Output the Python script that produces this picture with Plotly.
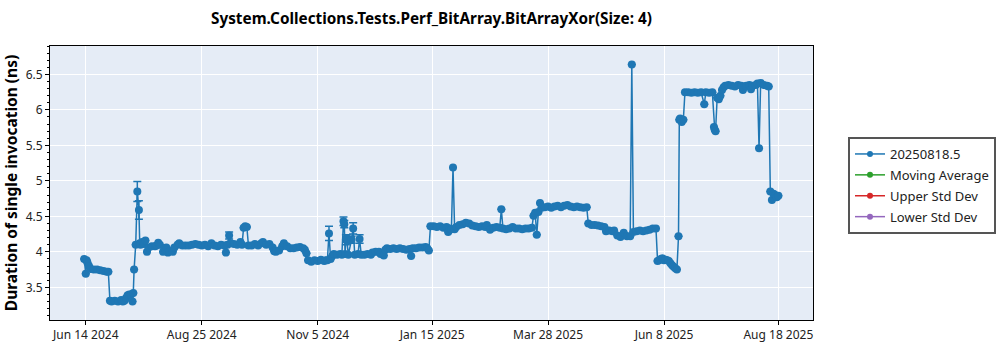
import plotly.graph_objects as go

dates = [
    "2024-06-13", "2024-06-14", "2024-06-14 12:00", "2024-06-15", "2024-06-16", "2024-06-17",
    "2024-06-19", "2024-06-21", "2024-06-23", "2024-06-25", "2024-06-27", "2024-06-28",
    "2024-06-29", "2024-06-30", "2024-07-02", "2024-07-04", "2024-07-06", "2024-07-07",
    "2024-07-08", "2024-07-09", "2024-07-10", "2024-07-11", "2024-07-12", "2024-07-13",
    "2024-07-13 12:00", "2024-07-14", "2024-07-15", "2024-07-16", "2024-07-17", "2024-07-17 12:00",
    "2024-07-18", "2024-07-19", "2024-07-20", "2024-07-21", "2024-07-22", "2024-07-23",
    "2024-07-25", "2024-07-27", "2024-07-28", "2024-07-29", "2024-07-30", "2024-08-01",
    "2024-08-02", "2024-08-03", "2024-08-04", "2024-08-05", "2024-08-07", "2024-08-08",
    "2024-08-10", "2024-08-11", "2024-08-13", "2024-08-15", "2024-08-17", "2024-08-19",
    "2024-08-21", "2024-08-23", "2024-08-25", "2024-08-27", "2024-08-29", "2024-08-31",
    "2024-09-02", "2024-09-04", "2024-09-06", "2024-09-08", "2024-09-09", "2024-09-10",
    "2024-09-11", "2024-09-12", "2024-09-14", "2024-09-16", "2024-09-18", "2024-09-19",
    "2024-09-20", "2024-09-21", "2024-09-22", "2024-09-23", "2024-09-25", "2024-09-27",
    "2024-09-29", "2024-10-01", "2024-10-02", "2024-10-04", "2024-10-06", "2024-10-08",
    "2024-10-09", "2024-10-10", "2024-10-12", "2024-10-14", "2024-10-15", "2024-10-17",
    "2024-10-19", "2024-10-21", "2024-10-23", "2024-10-25", "2024-10-27", "2024-10-28",
    "2024-10-29", "2024-10-30", "2024-11-01", "2024-11-03", "2024-11-05", "2024-11-07",
    "2024-11-09", "2024-11-10", "2024-11-11", "2024-11-12", "2024-11-13", "2024-11-14",
    "2024-11-15", "2024-11-17", "2024-11-19", "2024-11-20", "2024-11-21", "2024-11-21 12:00",
    "2024-11-22", "2024-11-22 12:00", "2024-11-23", "2024-11-24", "2024-11-26", "2024-11-27",
    "2024-11-28", "2024-11-30", "2024-12-01", "2024-12-02", "2024-12-04", "2024-12-06",
    "2024-12-08", "2024-12-09", "2024-12-11", "2024-12-13", "2024-12-14", "2024-12-16",
    "2024-12-17", "2024-12-18", "2024-12-20", "2024-12-22", "2024-12-24", "2024-12-26",
    "2024-12-28", "2024-12-30", "2025-01-01", "2025-01-02", "2025-01-03", "2025-01-05",
    "2025-01-07", "2025-01-09", "2025-01-11", "2025-01-12", "2025-01-13", "2025-01-14",
    "2025-01-16", "2025-01-18", "2025-01-20", "2025-01-22", "2025-01-24", "2025-01-25",
    "2025-01-26", "2025-01-27", "2025-01-28", "2025-01-29", "2025-01-30", "2025-02-01",
    "2025-02-03", "2025-02-05", "2025-02-07", "2025-02-09", "2025-02-11", "2025-02-13",
    "2025-02-15", "2025-02-17", "2025-02-18", "2025-02-20", "2025-02-22", "2025-02-24",
    "2025-02-26", "2025-02-27", "2025-02-28", "2025-03-02", "2025-03-04", "2025-03-06",
    "2025-03-08", "2025-03-10", "2025-03-12", "2025-03-14", "2025-03-16", "2025-03-18",
    "2025-03-19", "2025-03-20", "2025-03-21", "2025-03-22", "2025-03-23", "2025-03-24",
    "2025-03-26", "2025-03-28", "2025-03-30", "2025-04-01", "2025-04-03", "2025-04-05",
    "2025-04-07", "2025-04-09", "2025-04-11", "2025-04-13", "2025-04-15", "2025-04-17",
    "2025-04-19", "2025-04-21", "2025-04-22", "2025-04-24", "2025-04-26", "2025-04-28",
    "2025-04-30", "2025-05-02", "2025-05-03", "2025-05-05", "2025-05-07", "2025-05-08",
    "2025-05-10", "2025-05-12", "2025-05-14", "2025-05-16", "2025-05-18", "2025-05-19",
    "2025-05-20", "2025-05-22", "2025-05-24", "2025-05-26", "2025-05-28", "2025-05-30",
    "2025-06-01", "2025-06-03", "2025-06-04", "2025-06-05", "2025-06-06", "2025-06-07",
    "2025-06-08", "2025-06-09", "2025-06-10", "2025-06-11", "2025-06-12", "2025-06-13",
    "2025-06-14", "2025-06-15", "2025-06-16", "2025-06-17", "2025-06-17 12:00", "2025-06-18",
    "2025-06-19", "2025-06-20", "2025-06-21", "2025-06-23", "2025-06-25", "2025-06-27",
    "2025-06-29", "2025-07-01", "2025-07-03", "2025-07-04", "2025-07-06", "2025-07-08",
    "2025-07-09", "2025-07-09 12:00", "2025-07-10", "2025-07-11", "2025-07-12", "2025-07-13",
    "2025-07-14", "2025-07-15", "2025-07-16", "2025-07-18", "2025-07-20", "2025-07-22",
    "2025-07-24", "2025-07-26", "2025-07-27", "2025-07-29", "2025-07-31", "2025-08-01",
    "2025-08-02", "2025-08-04", "2025-08-05", "2025-08-06", "2025-08-07", "2025-08-09",
    "2025-08-11", "2025-08-12", "2025-08-13", "2025-08-14", "2025-08-15", "2025-08-16",
    "2025-08-17", "2025-08-18",
]

durations = [
    3.90, 3.69, 3.88, 3.85, 3.80, 3.76,
    3.75, 3.75, 3.74, 3.73, 3.72, 3.72,
    3.31, 3.30, 3.31, 3.30, 3.32, 3.30,
    3.31, 3.35, 3.39, 3.40, 3.40, 3.30,
    3.42, 3.75, 4.10, 4.85, 4.59, 4.12,
    4.10, 4.14, 4.11, 4.16, 4.00, 4.06,
    4.08, 4.08, 4.09, 4.13, 4.10, 4.00,
    4.05, 4.06, 3.99, 4.01, 4.00, 4.06,
    4.10, 4.12, 4.09, 4.09, 4.09, 4.10,
    4.11, 4.10, 4.09, 4.10, 4.08, 4.12,
    4.09, 4.08, 4.10, 4.09, 3.99, 4.10,
    4.23, 4.12, 4.11, 4.10, 4.14, 4.10,
    4.34, 4.36, 4.35, 4.09, 4.09, 4.11,
    4.09, 4.12, 4.14, 4.10, 4.11, 4.06,
    4.01, 4.00, 4.02, 4.08, 4.12, 4.08,
    4.05, 4.05, 4.06, 4.07, 4.05, 4.03,
    3.98, 3.88, 3.86, 3.88, 3.87, 3.89,
    3.87, 3.88, 3.88, 4.26, 3.90, 3.94,
    3.97, 3.96, 3.97, 3.96, 4.43, 4.39,
    3.97, 4.17, 4.19, 3.96, 4.17, 4.33,
    3.96, 3.97, 4.18, 3.96, 3.96, 3.97,
    3.96, 3.99, 4.00, 4.00, 3.97, 3.95,
    4.03, 4.05, 4.04, 4.05, 4.04, 4.05,
    4.04, 4.03, 4.04, 3.94, 4.05, 4.05,
    4.06, 4.06, 4.07, 4.05, 4.02, 4.36,
    4.36, 4.35, 4.36, 4.34, 4.35, 4.28,
    4.33, 4.32, 5.19, 4.32, 4.35, 4.38,
    4.39, 4.41, 4.40, 4.37, 4.36, 4.35,
    4.36, 4.35, 4.38, 4.31, 4.34, 4.35,
    4.34, 4.60, 4.33, 4.32, 4.33, 4.35,
    4.33, 4.33, 4.32, 4.33, 4.33, 4.34,
    4.51, 4.55, 4.24, 4.56, 4.69, 4.62,
    4.63, 4.64, 4.62, 4.64, 4.65, 4.63,
    4.65, 4.66, 4.64, 4.63, 4.64, 4.63,
    4.62, 4.63, 4.40, 4.38, 4.38, 4.37,
    4.36, 4.35, 4.29, 4.30, 4.29, 4.30,
    4.23, 4.21, 4.27, 4.22, 4.22, 6.64,
    4.28, 4.29, 4.30, 4.29, 4.30, 4.31,
    4.33, 4.33, 3.87, 3.88, 3.90, 3.91,
    3.88, 3.89, 3.88, 3.87, 3.84, 3.81,
    3.79, 3.77, 3.75, 4.22, 5.86, 5.88,
    5.83, 5.86, 6.25, 6.25, 6.24, 6.25,
    6.24, 6.25, 6.08, 6.25, 6.24, 6.25,
    5.76, 5.72, 5.70, 6.17, 6.15, 6.20,
    6.28, 6.32, 6.34, 6.35, 6.34, 6.33,
    6.35, 6.34, 6.28, 6.34, 6.35, 6.29,
    6.34, 6.35, 6.37, 5.46, 6.38, 6.35,
    6.34, 6.33, 4.85, 4.73, 4.82, 4.80,
    4.77, 4.79,
]

# error bars visible on a few runs
err_dates = ["2024-07-16", "2024-07-17", "2024-09-11", "2024-11-12", "2024-11-21",
             "2024-11-21 12:00", "2024-11-22 12:00", "2024-11-23", "2024-11-26",
             "2024-11-27", "2024-12-01"]
err_sizes = [0.14, 0.13, 0.05, 0.10, 0.06, 0.05, 0.07, 0.05, 0.05, 0.08, 0.06]

legend_names = ["20250818.5", "Moving Average", "Upper Std Dev", "Lower Std Dev"]
legend_colors = ["#1f77b4", "#2ca02c", "#d62728", "#9467bd"]

tick_dates = ["2024-06-14", "2024-08-25", "2024-11-05", "2025-01-15",
              "2025-03-28", "2025-06-08", "2025-08-18"]

title_text = "System.Collections.Tests.Perf_BitArray.BitArrayXor(Size: 4)"
y_title = "Duration of single invocation (ns)"

err_map = dict(zip(err_dates, err_sizes))
errors = [err_map.get(d, 0) for d in dates]

FONT = "Noto Sans"

fig = go.Figure()
fig.add_trace(go.Scatter(
    x=dates, y=durations, mode="lines+markers", name=legend_names[0],
    showlegend=False,
    line=dict(color=legend_colors[0], width=1.5),
    marker=dict(color=legend_colors[0], size=8),
    error_y=dict(type="data", array=errors, visible=True, color=legend_colors[0],
                 thickness=1.5, width=4),
))
# legend entries (same symbol size for all four)
for i, (name, col) in enumerate(zip(legend_names, legend_colors)):
    fig.add_trace(go.Scatter(
        x=[None], y=[None], mode="lines+markers", name=name, legendgroup="g%d" % i,
        line=dict(color=col, width=1.5), marker=dict(color=col, size=6),
    ))

fig.update_layout(
    width=1000, height=350,
    margin=dict(l=50, r=187, t=46, b=30, autoexpand=False),
    paper_bgcolor="white", plot_bgcolor="#E5ECF6",
    font=dict(family=FONT, size=12, color="#222"),
    title=dict(text="<b>" + title_text + "</b>", x=0.5, xref="paper", xanchor="center",
               y=1 - 19 / 350, yanchor="middle", font=dict(size=15.3, color="black")),
    showlegend=True,
    legend=dict(x=(848 - 50) / 763, y=(320 - 137) / 274, xanchor="left", yanchor="top",
                bgcolor="white", bordercolor="#555", borderwidth=2,
                font=dict(size=13, color="#222"), itemwidth=30, tracegroupgap=1),
    shapes=[dict(type="rect", xref="paper", yref="paper",
                 x0=(852 - 50) / 763, x1=(983 - 50) / 763,
                 y0=(320 - 232) / 274, y1=(320 - 141) / 274,
                 fillcolor="#c8c8c8", line=dict(width=0), layer="above")],
)
fig.update_xaxes(
    type="date", range=["2024-05-22 19:00", "2025-09-08 12:00"], automargin=False,
    tickvals=tick_dates, tickformat="%b %-d %Y",
    showgrid=True, gridcolor="white", gridwidth=1,
    showline=True, linecolor="black", linewidth=1, mirror=True,
    ticks="outside", ticklen=4, tickcolor="black",
    tickfont=dict(size=12, color="#222"),
)
fig.update_yaxes(
    range=[3.04, 6.90], dtick=0.5, tick0=0, automargin=False,
    showgrid=True, gridcolor="white", gridwidth=1,
    showline=True, linecolor="black", linewidth=1, mirror=True,
    ticks="outside", ticklen=4, tickcolor="black",
    minor=dict(dtick=0.1, ticks="outside", ticklen=2, tickcolor="black", showgrid=False),
    tickfont=dict(size=12, color="#222"),
    title=dict(text="<b>" + y_title + "</b>", font=dict(size=15.5, color="black"), standoff=6),
    zeroline=False,
)

fig.write_html("out.html")
